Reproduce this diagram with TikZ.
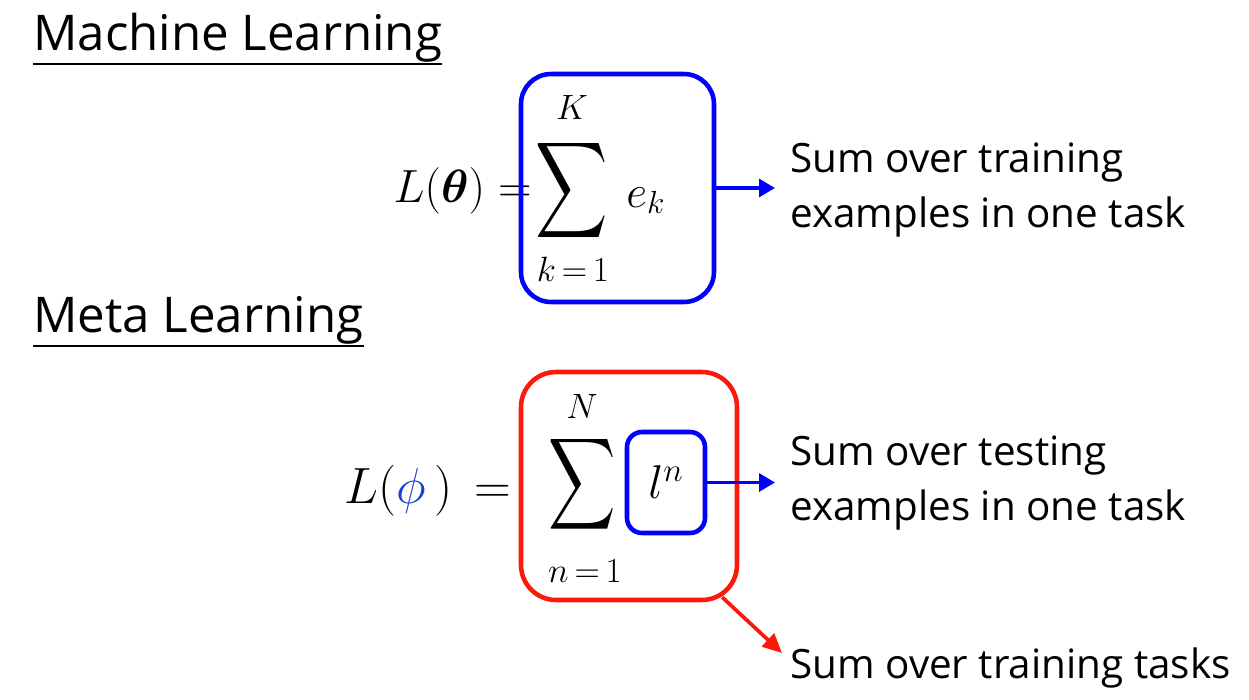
\RequirePackage{fix-cm}
\documentclass[tikz,border=0pt]{standalone}
\usepackage{amsmath,bm}
\usepackage{fontspec}
\setmainfont{Open Sans}
\usepackage{graphicx}
\usetikzlibrary{arrows.meta,calc}
\definecolor{boxblue}{RGB}{0,0,255}
\definecolor{boxred}{RGB}{250,25,10}
\definecolor{phiblue}{RGB}{25,65,205}
\tikzset{
  heading/.style={anchor=base west,inner sep=0pt,font=\fontsize{28}{32}\selectfont},
  note/.style={anchor=west,inner sep=0pt,align=left,font=\fontsize{23}{31.7}\selectfont},
  sumbox/.style={draw,line width=2.6pt,rounded corners=0.6cm,inner sep=0pt},
  limit/.style={inner sep=0pt,font=\fontsize{20}{24}\selectfont},
  pointer/.style={line width=2.1pt,-{Triangle[length=9pt,width=10pt]}},
}
\begin{document}
\begin{tikzpicture}[x=0.02cm,y=-0.02cm]
  \useasboundingbox (0,0) rectangle (1249,700);
  % headings
  \node[heading] (mlhead) at (33,50) {Machine Learning};
  \draw[line width=1.4pt] ($(mlhead.base west)+(0,14)$) -- ($(mlhead.base east)+(0,14)$);
  \node[heading] (metahead) at (33,332) {Meta Learning};
  \draw[line width=1.4pt] ($(metahead.base west)+(0,14)$) -- ($(metahead.base east)+(0,14)$);
  % machine learning loss
  \node[anchor=base east,inner sep=0pt,font=\fontsize{26.5}{30}\selectfont] (mlloss) at (532,202) {$L(\bm{\theta}) =$};
  \node[inner sep=0pt] (mlsum) at (572,191) {\resizebox*{1.45cm}{2.15cm}{$\displaystyle\sum$}};
  \node[limit] (mltop) at (572,107) {$K$};
  \node[limit] (mlbot) at (573,269) {$k\,{=}\,1$};
  \node[anchor=base west,inner sep=0pt,font=\fontsize{26}{30}\selectfont] (ek) at (626,207) {$e_k$};
  \node[sumbox,draw=boxblue,minimum width=3.86cm,minimum height=4.56cm] (mlbox) at (617.5,188) {};
  % meta learning loss
  \node[anchor=base east,inner sep=0pt,font=\fontsize{29}{34}\selectfont] (metaloss) at (512,503) {$L({\color{phiblue}\phi}\,)\,=$};
  \node[inner sep=0pt] (metasum) at (582.5,484) {\resizebox*{1.35cm}{2.05cm}{$\displaystyle\sum$}};
  \node[limit] (metatop) at (582,406) {$N$};
  \node[limit] (metabot) at (585,571) {$n\,{=}\,1$};
  \node[sumbox,draw=boxred,rounded corners=0.7cm,minimum width=4.32cm,minimum height=4.56cm] (metabox) at (629,486) {};
  \node[sumbox,draw=boxblue,rounded corners=0.3cm,minimum width=1.56cm,minimum height=2.02cm,
    font=\fontsize{27}{32}\selectfont] (lbox) at (666,482.5) {$l^n$};
  % notes
  \node[note] (mlnote) at (790,190) {Sum over training\\examples in one task};
  \node[note] (testnote) at (790,483) {Sum over testing\\examples in one task};
  \node[note] (tasknote) at (790,668) {Sum over training tasks};
  % arrows
  \draw[pointer,boxblue,shorten >=0.3cm] (mlbox.east) -- (mlbox.east -| mlnote.west);
  \draw[pointer,boxblue,shorten >=0.3cm] (lbox.east) -- (lbox.east -| testnote.west);
  \coordinate (taskend) at (782,653);
  \draw[pointer,boxred,-{Triangle[length=11pt,width=10pt]}] ($(metabox.south east)+(-17,-5)$) -- (taskend);
\end{tikzpicture}
\end{document}
